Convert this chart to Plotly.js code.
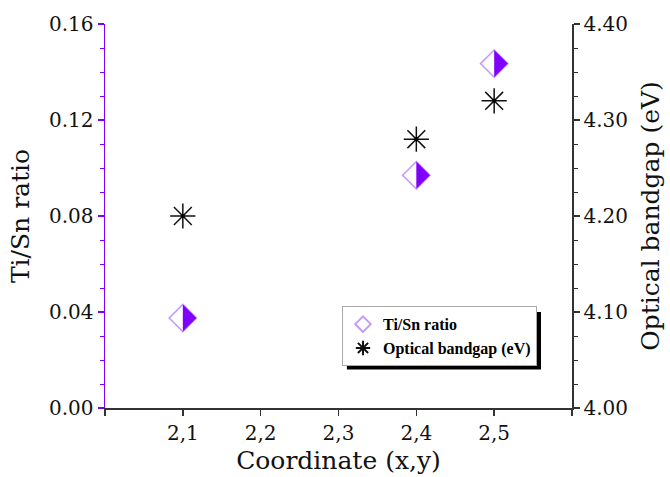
<!DOCTYPE html>
<html>
<head>
<meta charset="utf-8">
<script src="https://cdn.plot.ly/plotly-3.0.1.min.js"></script>
<style>html,body{margin:0;padding:0;background:#fff;}#chart{width:670px;height:477px;}</style>
</head>
<body>
<div id="chart"></div>
<script>
// Data
const coords = [2.1, 2.4, 2.5];
const tiSnRatio = [0.0375, 0.097, 0.1435];
const bandgap = [4.20, 4.28, 4.32];
const xTickVals = [2.0, 2.1, 2.2, 2.3, 2.4, 2.5, 2.6];
const xTickText = ['', '2,1', '2,2', '2,3', '2,4', '2,5', ''];
const topTickVals = [2.1, 2.2, 2.3, 2.4, 2.5];

const PURPLE = '#8000ff';
const LIGHT_PURPLE = '#c09aff';
const FONT = 'DejaVu Serif';
const X_RANGE = [2.0, 2.6];
// the rotated triangle marker's centre is ~4.5px left of its vertical edge;
// shift its axis by that many pixels so the half-diamond lines up
const PLOT_W = 670 - 105 - 98;
const HALF_SHIFT = 4.55 * (X_RANGE[1] - X_RANGE[0]) / PLOT_W;

const traces = [
  {
    x: coords, y: tiSnRatio, name: 'Ti/Sn ratio', type: 'scatter', mode: 'markers',
    xaxis: 'x', yaxis: 'y',
    marker: {symbol: 'diamond', size: 21, color: '#ffffff', line: {color: LIGHT_PURPLE, width: 1.5}}
  },
  {
    x: coords, y: tiSnRatio, name: 'Ti/Sn ratio', type: 'scatter', mode: 'markers',
    xaxis: 'x3', yaxis: 'y', showlegend: false,
    marker: {symbol: 'triangle-ne', angle: 45, size: 21.4, color: PURPLE, line: {width: 0}}
  },
  {
    x: coords, y: bandgap, name: 'Optical bandgap (eV)', type: 'scatter', mode: 'markers',
    xaxis: 'x', yaxis: 'y2',
    marker: {symbol: 'asterisk-open', size: 21, color: '#111', line: {color: '#111', width: 1.5}}
  },
  {
    x: coords, y: bandgap, name: 'Optical bandgap (eV)', type: 'scatter', mode: 'markers',
    xaxis: 'x', yaxis: 'y2', showlegend: false,
    marker: {symbol: 'circle', size: 4, color: '#000'}
  }
];

const layout = {
  width: 670, height: 477,
  margin: {l: 105, r: 98, t: 24, b: 69},
  paper_bgcolor: '#fff', plot_bgcolor: '#fff',
  font: {family: FONT, color: '#111', size: 20},
  showlegend: true,
  legend: {
    x: 0.5075, y: 0.265, xanchor: 'left', yanchor: 'top',
    bgcolor: '#fff', bordercolor: '#aaa', borderwidth: 1,
    font: {family: 'Liberation Serif', size: 16, color: '#000', weight: 'bold'},
    tracegroupgap: 0, itemsizing: 'constant'
  },
  xaxis: {
    range: X_RANGE, tickmode: 'array', tickvals: xTickVals, ticktext: xTickText,
    ticks: 'outside', ticklen: 6, tickwidth: 1.5, tickcolor: '#333',
    showline: true, linecolor: '#333', linewidth: 1.5, showgrid: false, zeroline: false,
    tickfont: {family: FONT, size: 20},
    title: {text: 'Coordinate (x,y)', font: {family: FONT, size: 25}, standoff: 8}
  },
  xaxis2: {
    overlaying: 'x', side: 'top', range: X_RANGE, tickmode: 'array', tickvals: topTickVals,
    ticks: 'inside', ticklen: 6, tickwidth: 1.5, tickcolor: '#333', showticklabels: false,
    showline: true, linecolor: '#333', linewidth: 1.5, showgrid: false, zeroline: false
  },
  xaxis3: {
    overlaying: 'x', range: [X_RANGE[0] - HALF_SHIFT, X_RANGE[1] - HALF_SHIFT],
    visible: false, showgrid: false, zeroline: false
  },
  yaxis: {
    range: [0, 0.16], dtick: 0.04, tick0: 0, tickformat: '.2f',
    ticks: 'outside', ticklen: 6, tickwidth: 1.5, tickcolor: PURPLE,
    minor: {dtick: 0.01, ticks: 'outside', ticklen: 4, tickcolor: PURPLE, tickwidth: 1},
    showline: true, linecolor: PURPLE, linewidth: 1.5, showgrid: false, zeroline: false,
    tickfont: {family: FONT, size: 20},
    title: {text: 'Ti/Sn ratio', font: {family: FONT, size: 25}, standoff: 12}
  },
  yaxis2: {
    overlaying: 'y', side: 'right', range: [4.0, 4.4], dtick: 0.1, tick0: 4.0, tickformat: '.2f',
    ticks: 'outside', ticklen: 6, tickwidth: 1.5, tickcolor: '#333',
    minor: {dtick: 0.025, ticks: 'outside', ticklen: 4, tickcolor: '#333', tickwidth: 1},
    showline: true, linecolor: '#333', linewidth: 1.5, showgrid: false, zeroline: false,
    tickfont: {family: FONT, size: 20},
    title: {text: 'Optical bandgap (eV)', font: {family: FONT, size: 25}, standoff: 14}
  },
  shapes: [
    {type: 'rect', xref: 'paper', yref: 'paper', x0: 0.518, x1: 0.9336, y0: 0.1, y1: 0.25,
     fillcolor: '#000', line: {width: 0}, layer: 'above'}
  ]
};

Plotly.newPlot('chart', traces, layout, {displayModeBar: false, staticPlot: true});
</script>
</body>
</html>
